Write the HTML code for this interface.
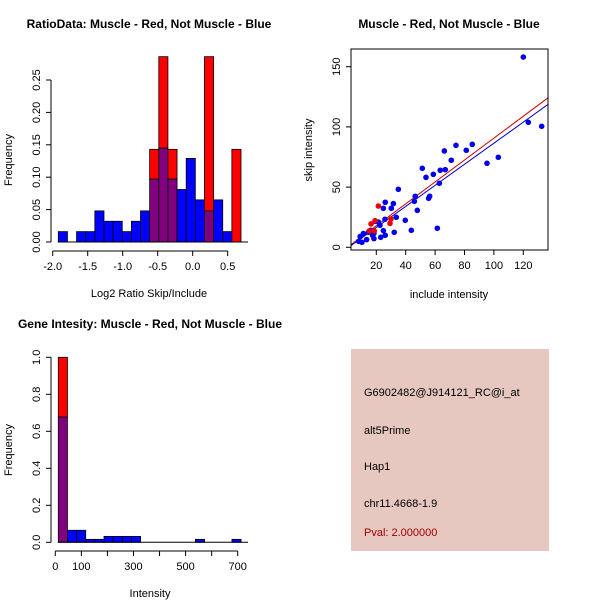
<!DOCTYPE html>
<html><head><meta charset="utf-8"><style>
body{margin:0;background:#fff;}
svg{display:block;font-family:"Liberation Sans",sans-serif;}
</style></head><body>
<svg id="s" width="600" height="600" viewBox="0 0 600 600">
<rect width="600" height="600" fill="#fff"/>
<rect x="351" y="349" width="198" height="202" fill="#e6c8c0"/>
<text x="364" y="396" font-size="11">G6902482@J914121_RC@i_at</text>
<text x="364" y="434" font-size="11">alt5Prime</text>
<text x="364" y="470" font-size="11">Hap1</text>
<text x="364" y="507" font-size="11">chr11.4668-1.9</text>
<text x="364" y="536" font-size="11" fill="#a00000">Pval: 2.000000</text>
</svg>
<script>
// ---- data: ratio histogram ----
const ratioBins0 = -1.92, ratioBinW = 0.1305;
const ratioBlue = [0.016,0,0.016,0.016,0.048,0.032,0.032,0.016,0.032,0.048,0.097,0.145,0.097,0.081,0.129,0.065,0.048,0.065,0.016,0];
const ratioRed  = [0,0,0,0,0,0,0,0,0,0,0.143,0.286,0.143,0,0,0,0.286,0,0,0.143];
const ratioYTicks = [0,0.05,0.10,0.15,0.20,0.25];
const ratioYLabels = ["0.00","0.05","0.10","0.15","0.20","0.25"];
const ratioXTicks = [-2.0,-1.5,-1.0,-0.5,0.0,0.5];
const ratioXLabels = ["-2.0","-1.5","-1.0","-0.5","0.0","0.5"];
// ---- data: intensity histogram ----
const intBins0 = 11.5, intBinW = 35.07;
const intBlue = [0.677,0.065,0.065,0.016,0.016,0.032,0.032,0.032,0.032,0,0,0,0,0,0,0.016,0,0,0,0.016];
const intRed  = [1.0,0,0,0,0,0,0,0,0,0,0,0,0,0,0,0,0,0,0,0];
const intYTicks = [0,0.2,0.4,0.6,0.8,1.0];
const intYLabels = ["0.0","0.2","0.4","0.6","0.8","1.0"];
const intXTicks = [0,100,200,300,400,500,600,700];
const intXLabels = ["0","100","","300","","500","","700"];
// ---- data: scatter ----
const blueX = [120,123.4,132.5,95.3,103,66.3,74.2,81.2,85.3,71,51.3,53.8,58.8,63.5,66.9,62.9,55.6,56.3,46.5,45.9,35,26.1,31.6,24.8,30.2,47.9,39.7,33.6,43.8,32.2,61.5,25.9,21.4,19.3,22.5,24.8,26.1,23,18.4,17.5,14.6,11.2,9,8,10.2,13.4,16.1,18.4];
const blueY = [158,103.8,100.5,69.8,74.8,80,84.7,80.6,85.5,72.3,65.6,58.1,60.6,64,64.5,53.2,40.7,42.4,42.4,38.2,48.2,37.4,36.3,32.4,32.4,30.7,22.4,24.9,14.1,12.5,15.8,23.3,21,21.6,18.3,13.8,10,8.3,7.2,10,12.5,11.4,8.9,5,4.2,6.4,14.1,11.6];
const redX = [21.4,16.4,19.1,29.3,30,18.6,15.2];
const redY = [34.3,19.4,22.1,19.9,23.5,13.6,13.6];
const fitRed = [-0.35,0.91];
const fitBlue = [-1.05,0.875];
const scXTicks = [20,40,60,80,100,120];
const scYTicks = [0,50,100,150];

const svg = document.getElementById('s');
const NS = 'http://www.w3.org/2000/svg';
function mk(tag, attrs, name, parent){
  const e = document.createElementNS(NS, tag);
  for (const k in attrs) e.setAttribute(k, attrs[k]);
  
  
  (parent||svg).appendChild(e);
  return e;
}
function txt(x,y,s,opts,name){
  const e = mk('text', Object.assign({x:x,y:y,'font-size':11,'text-anchor':'middle'},opts||{}), name);
  e.textContent = s;
  return e;
}

function histogram(cfg){
  const g = mk('g', {}, cfg.name);
  const sx = v => cfg.x0px + (v - cfg.xmin) * cfg.xs;
  const sy = v => cfg.base - v * cfg.ys;
  for (let i=0;i<cfg.blue.length;i++){
    const b = cfg.blue[i], r = cfg.red[i];
    const xa = sx(cfg.b0 + i*cfg.bw), xb = sx(cfg.b0 + (i+1)*cfg.bw);
    const lo = Math.min(b,r), hi = Math.max(b,r);
    if (hi > lo){
      const el = mk('rect', {x:xa,y:sy(hi),width:xb-xa,height:sy(lo)-sy(hi),fill:b>r?'#0000ff':'#ff0000',stroke:'#000','stroke-width':0.8}, b>r?'bar-blue':'bar-red', g);
    }
    if (lo > 0){
      mk('rect', {x:xa,y:sy(lo),width:xb-xa,height:sy(0)-sy(lo),fill:'#800080',stroke:'#000','stroke-width':0.8}, 'bar-overlap', g);
    }
  }
  // baseline
  mk('line',{x1:sx(cfg.b0)-0.5,x2:cfg.baseEnd,y1:cfg.base,y2:cfg.base,stroke:'#000'},'baseline',g);
  // y axis
  const yt = cfg.yTicks;
  mk('line',{x1:cfg.yAxisX,x2:cfg.yAxisX,y1:sy(yt[0]),y2:sy(yt[yt.length-1]),stroke:'#000'},'y-axis',g);
  yt.forEach((v,i)=>{
    mk('line',{x1:cfg.yAxisX-5,x2:cfg.yAxisX,y1:sy(v),y2:sy(v),stroke:'#000'},'y-tick',g);
    txt(cfg.yAxisX-11, sy(v), cfg.yLabels[i], {transform:`rotate(-90 ${cfg.yAxisX-11} ${sy(v)})`}, 'y-tick-label');
  });
  // x axis
  const xt = cfg.xTicks;
  const ay = cfg.xAxisY;
  mk('line',{x1:sx(xt[0]),x2:sx(xt[xt.length-1]),y1:ay,y2:ay,stroke:'#000'},'x-axis',g);
  xt.forEach((v,i)=>{
    mk('line',{x1:sx(v),x2:sx(v),y1:ay,y2:ay+5,stroke:'#000'},'x-tick',g);
    if (cfg.xLabels[i]) txt(sx(v), ay+19, cfg.xLabels[i], {}, 'x-tick-label');
  });
}

histogram({name:'ratio-histogram', blue:ratioBlue, red:ratioRed, b0:ratioBins0, bw:ratioBinW,
  xmin:-2, x0px:52.7, xs:70, base:242, ys:648, baseEnd:248, yAxisX:51,
  yTicks:ratioYTicks, yLabels:ratioYLabels, xTicks:ratioXTicks, xLabels:ratioXLabels, xAxisY:251});
txt(149,28,'RatioData: Muscle - Red, Not Muscle - Blue',{'font-weight':'bold','font-size':12},'ratio-title');
txt(149,297,'Log2 Ratio Skip/Include',{},'ratio-x-title');
txt(12,160,'Frequency',{transform:'rotate(-90 12 160)'},'ratio-y-title');

histogram({name:'intensity-histogram', blue:intBlue, red:intRed, b0:intBins0, bw:intBinW,
  xmin:0, x0px:55.3, xs:0.2606, base:542.3, ys:185, baseEnd:248, yAxisX:51,
  yTicks:intYTicks, yLabels:intYLabels, xTicks:intXTicks, xLabels:intXLabels, xAxisY:551});
txt(150,328,'Gene Intesity: Muscle - Red, Not Muscle - Blue',{'font-weight':'bold','font-size':12},'intensity-title');
txt(150,597,'Intensity',{},'intensity-x-title');
txt(12,450,'Frequency',{transform:'rotate(-90 12 450)'},'intensity-y-title');

// scatter
(function(){
  const g = mk('g',{},'scatter-plot');
  const L=351,R=548,T=49,B=250;
  const sx = v => 346.9 + v*1.47;
  const sy = v => 247.3 - v*1.204;
  const xmin=(L-346.9)/1.47, xmax=(R-346.9)/1.47;
  const cp = mk('clipPath',{id:'cp'},'clip',g);
  mk('rect',{x:L,y:T,width:R-L,height:B-T},'clip-rect',cp);
  [[fitRed,'#cc0000','fit-line-red'],[fitBlue,'#0000cc','fit-line-blue']].forEach(([f,c,n])=>{
    mk('line',{x1:sx(xmin),y1:sy(f[0]+f[1]*xmin),x2:sx(xmax),y2:sy(f[0]+f[1]*xmax),stroke:c,'stroke-width':1,'clip-path':'url(#cp)'},n,g);
  });
  blueX.forEach((v,i)=>{ mk('circle',{cx:sx(v),cy:sy(blueY[i]),r:2.8,fill:'#0000ee'},'point-blue',g); });
  redX.forEach((v,i)=>{ mk('circle',{cx:sx(v),cy:sy(redY[i]),r:2.8,fill:'#ee0000'},'point-red',g); });
  mk('rect',{x:L,y:T,width:R-L,height:B-T,fill:'none',stroke:'#000'},'plot-box',g);
  scXTicks.forEach(v=>{
    mk('line',{x1:sx(v),x2:sx(v),y1:B,y2:B+5,stroke:'#000'},'x-tick',g);
    txt(sx(v),B+19,String(v),{},'x-tick-label');
  });
  scYTicks.forEach(v=>{
    mk('line',{x1:L-5,x2:L,y1:sy(v),y2:sy(v),stroke:'#000'},'y-tick',g);
    txt(L-11,sy(v),String(v),{transform:`rotate(-90 ${L-11} ${sy(v)})`},'y-tick-label');
  });
})();
txt(449,28,'Muscle - Red, Not Muscle - Blue',{'font-weight':'bold','font-size':12},'scatter-title');
txt(449,298,'include intensity',{},'scatter-x-title');
txt(312,150,'skip intensity',{transform:'rotate(-90 312 150)'},'scatter-y-title');
</script>
</body></html>
